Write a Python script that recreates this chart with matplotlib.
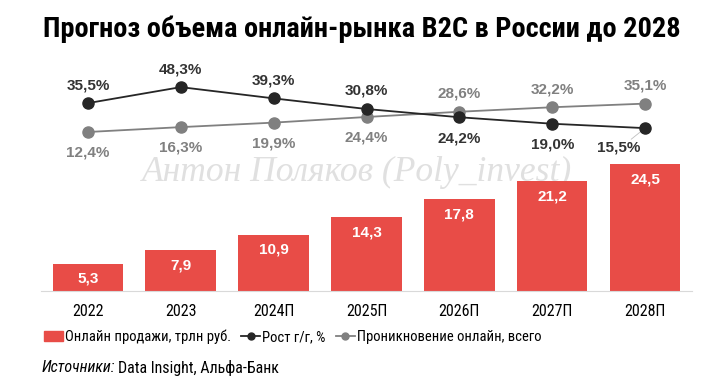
import matplotlib
matplotlib.use("Agg")
import matplotlib.pyplot as plt
from matplotlib import font_manager
from matplotlib.lines import Line2D
from matplotlib.patches import Patch
import numpy as np

plt.rcParams["font.family"] = ["Liberation Sans", "DejaVu Sans"]

years = ["2022", "2023", "2024П", "2025П", "2026П", "2027П", "2028П"]
sales = [5.3, 7.9, 10.9, 14.3, 17.8, 21.2, 24.5]
growth = [35.5, 48.3, 39.3, 30.8, 24.2, 19.0, 15.5]
penetration = [12.4, 16.3, 19.9, 24.4, 28.6, 32.2, 35.1]

RED = "#E84C47"
DARK = "#262626"
GRAY = "#808080"


def pick_narrow(weight="normal"):
    """Return (family, stretch) of a condensed font if one is installed."""
    for fam, stretch in [("Liberation Sans Narrow", "normal"),
                         ("Roboto Condensed", "normal"),
                         ("DejaVu Sans", "condensed")]:
        try:
            path = font_manager.findfont(
                font_manager.FontProperties(family=fam, stretch=stretch, weight=weight),
                fallback_to_default=False)
        except ValueError:
            continue
        name = path.lower()
        if "narrow" in name or "condensed" in name:
            return fam, stretch
    return "Liberation Sans", "normal"


NARROW, NSTRETCH = pick_narrow()
NARROW_B, NSTRETCH_B = pick_narrow("bold")

W, H = 720, 383
fig = plt.figure(figsize=(W / 100, H / 100), dpi=100)


def fit_width(txt, target_px):
    fig.canvas.draw()
    w = txt.get_window_extent().width
    txt.set_fontsize(txt.get_fontsize() * target_px / w)


# axes box in pixel coordinates (from top): x 41.5..691.5, y 70..291
left, right, top, bottom = 41.5, 691.5, 70, 291
ax = fig.add_axes([left / W, 1 - bottom / H, (right - left) / W, (bottom - top) / H])
ax.set_facecolor("none")
x = np.arange(len(years))

ax.bar(x, sales, width=0.76, color=RED, zorder=2)
ax.set_xlim(-0.5, len(years) - 0.5)
ax.set_ylim(0, (bottom - top) / 5.18)
for xi, v in zip(x, sales):
    ax.annotate(f"{v:.1f}".replace(".", ","), (xi, v), xytext=(0, -11),
                textcoords="offset points", ha="center", va="center",
                color="white", fontsize=11, fontweight="bold", zorder=3)

for s in ["top", "left", "right"]:
    ax.spines[s].set_visible(False)
ax.spines["bottom"].set_color("#d9d9d9")
ax.set_yticks([])
ax.set_xticks(x)
ax.set_xticklabels(years, fontsize=11.5, family=[NARROW, "DejaVu Sans"],
                   fontstretch=NSTRETCH)
ax.tick_params(axis="x", length=0, pad=9)

# line axis (shared box), y_px = 147.5 - 1.25*v
ax2 = ax.twinx()
ax2.set_ylim((147.5 - bottom) / 1.25, (147.5 - top) / 1.25)
ax2.axis("off")
ax2.plot(x, penetration, "-o", color=GRAY, lw=1.3, markersize=8, zorder=4)
ax2.plot(x, growth, "-o", color=DARK, lw=1.3, markersize=8, zorder=5)


def pct(v):
    return f"{v:.1f}%".replace(".", ",")


for i, v in enumerate(growth):
    if i < 4:
        dx, dy = 0, 13
    elif i < 6:
        dx, dy = 0, -15
    else:
        dx, dy = -19, -14
    ax2.annotate(pct(v), (x[i], v), xytext=(dx, dy), textcoords="offset points",
                 ha="center", va="center", color="#333333", fontsize=11,
                 fontweight="bold", zorder=6)
# leader line for the last growth label
ax2.annotate("", (x[-1], growth[-1]), xytext=(-10, -8), textcoords="offset points",
             arrowprops=dict(arrowstyle="-", color="#bfbfbf", lw=0.6,
                             shrinkA=0, shrinkB=4))

for i, v in enumerate(penetration):
    dy = -15 if i < 4 else 13
    ax2.annotate(pct(v), (x[i], v), xytext=(0, dy), textcoords="offset points",
                 ha="center", va="center", color=GRAY, fontsize=11,
                 fontweight="bold", zorder=6)

# watermark (behind the axes)
wm = fig.text(357 / W, 1 - 172 / H, "Антон Поляков (Poly_invest)", ha="center",
              va="center", fontsize=26, color="#e0e0e0", family="Liberation Serif",
              style="italic", zorder=-1)
fit_width(wm, 430)

title = fig.text(362 / W, 1 - 29 / H, "Прогноз объема онлайн-рынка B2C в России до 2028",
                 ha="center", va="center", fontsize=19, fontweight="bold",
                 family=[NARROW_B, "DejaVu Sans"], fontstretch=NSTRETCH_B)
fit_width(title, 640)

handles = [
    Patch(facecolor=RED, edgecolor=RED),
    Line2D([0], [0], color=DARK, lw=1.3, marker="o", markersize=5),
    Line2D([0], [0], color=GRAY, lw=1.3, marker="o", markersize=5),
]
labels = ["Онлайн продажи, трлн руб.", "Рост г/г, %", "Проникновение онлайн, всего"]
leg_size = 10.5 if NARROW != "Liberation Sans" else 9.6
fig.legend(handles, labels, loc="center left", bbox_to_anchor=(38 / W, 1 - 337 / H),
           ncol=3, frameon=False, handlelength=1.3, handletextpad=0.15,
           columnspacing=0.7, borderaxespad=0,
           prop={"family": [NARROW, "DejaVu Sans"], "stretch": NSTRETCH,
                 "size": leg_size})

src_size = 11.5 if NARROW != "Liberation Sans" else 9.8
t1 = fig.text(42 / W, 1 - 368 / H, "Источники:", ha="left", va="center",
              fontsize=src_size, style="italic", family=[NARROW, "DejaVu Sans"],
              fontstretch=NSTRETCH)
fig.canvas.draw()
bb = t1.get_window_extent()
fig.text((bb.x1 + 3) / W, 1 - 368 / H, "Data Insight, Альфа-Банк", ha="left",
         va="center", fontsize=src_size, family=[NARROW, "DejaVu Sans"],
         fontstretch=NSTRETCH)

fig.savefig("out.png", dpi=100)
